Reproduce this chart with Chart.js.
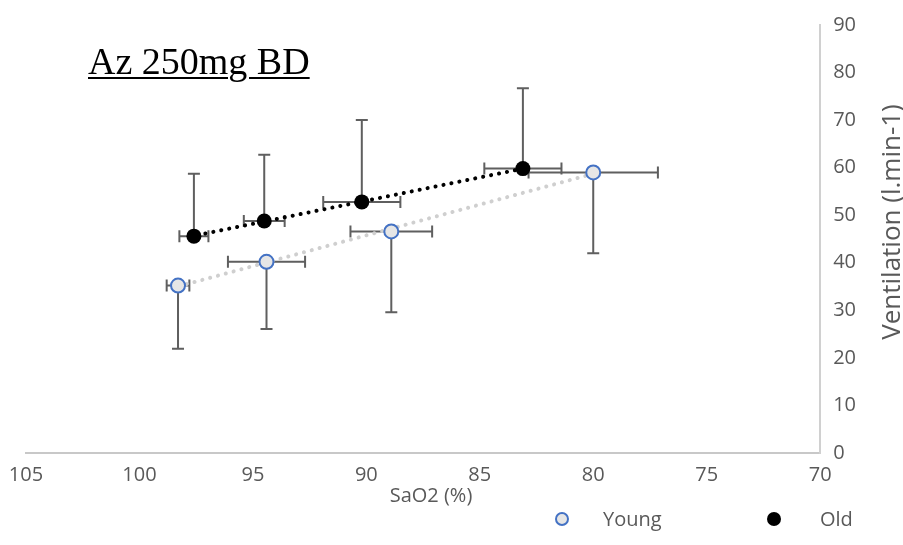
<!DOCTYPE html>
<html>
<head>
<meta charset="utf-8">
<script src="https://cdn.jsdelivr.net/npm/chart.js@4.4.0/dist/chart.umd.min.js"></script>
<style>
  body { margin: 0; background: #fff; }
  #wrap { position: relative; width: 903px; height: 545px; }
  #title { position: absolute; left: 88px; top: 42px; line-height: 38px; font-family: "Liberation Serif", serif; font-size: 38px; text-decoration: underline; text-decoration-thickness: 2px; text-underline-offset: 3px; color: #000; white-space: nowrap; }
  #ytitle { position: absolute; left: 740px; top: 208px; width: 300px; line-height: 28px; text-align: center; font-family: "Open Sans", sans-serif; font-size: 26px; color: #595959; transform: rotate(-90deg); white-space: nowrap; }
  #xtitle { position: absolute; left: 331px; top: 482px; width: 200px; line-height: 26px; text-align: center; font-family: "Open Sans", sans-serif; font-size: 20px; color: #595959; white-space: nowrap; }
  .leg { position: absolute; top: 505px; line-height: 28px; font-family: "Open Sans", sans-serif; font-size: 20px; color: #595959; white-space: nowrap; }
  .dot { position: absolute; border-radius: 50%; box-sizing: border-box; }
</style>
</head>
<body>
<div id="wrap">
  <canvas id="chart" width="903" height="545"></canvas>
  <div id="title">Az 250mg BD</div>
  <div id="ytitle">Ventilation (l.min-1)</div>
  <div id="xtitle">SaO2 (%)</div>
  <div class="dot" style="left:555px; top:512px; width:14px; height:14px; background:#e6e6e6; border:2px solid #4472c4;"></div>
  <div class="leg" style="left:603px;">Young</div>
  <div class="dot" style="left:767px; top:512px; width:14px; height:14px; background:#000;"></div>
  <div class="leg" style="left:820px;">Old</div>
</div>
<script>
// SaO2 (%) vs ventilation
const youngX = [98.3, 94.4, 88.9, 80.0];
const youngY = [35.2, 40.2, 46.6, 59.0];
const youngXErr = [0.5, 1.7, 1.8, 2.85];
const youngYErr = [13.3, 14.1, 17.0, 17.0]; // drawn downwards only

const oldX = [97.6, 94.5, 90.2, 83.1];
const oldY = [45.6, 48.8, 52.8, 59.8];
const oldXErr = [0.64, 0.9, 1.7, 1.7];
const oldYErr = [13.1, 13.9, 17.2, 16.9]; // drawn upwards only

const xTickValues = [70, 75, 80, 85, 90, 95, 100, 105];
const yTickValues = [0, 10, 20, 30, 40, 50, 60, 70, 80, 90];

function toPoints(xs, ys) {
  return xs.map((x, i) => ({ x: x, y: ys[i] }));
}

// linear trendline over the x range of the data
function trend(xs, ys) {
  const n = xs.length;
  const mx = xs.reduce((a, b) => a + b, 0) / n;
  const my = ys.reduce((a, b) => a + b, 0) / n;
  let sxy = 0, sxx = 0;
  for (let i = 0; i < n; i++) {
    sxy += (xs[i] - mx) * (ys[i] - my);
    sxx += (xs[i] - mx) * (xs[i] - mx);
  }
  const b = sxy / sxx;
  const a = my - b * mx;
  const lo = Math.min(...xs), hi = Math.max(...xs);
  return [{ x: lo, y: a + b * lo }, { x: hi, y: a + b * hi }];
}

const errors = {
  0: { xErr: youngXErr, yErr: youngYErr, dir: -1 },
  1: { xErr: oldXErr, yErr: oldYErr, dir: 1 }
};

const errorBars = {
  id: 'errorBars',
  beforeDatasetsDraw(chart) {
    const ctx = chart.ctx;
    const xs = chart.scales.x, ys = chart.scales.y;
    const cap = 6;
    ctx.save();
    ctx.strokeStyle = '#5f5f5f';
    ctx.lineWidth = 2;
    Object.keys(errors).forEach(k => {
      const e = errors[k];
      chart.data.datasets[k].data.forEach((p, i) => {
        const px = xs.getPixelForValue(p.x);
        const py = ys.getPixelForValue(p.y);
        const x1 = xs.getPixelForValue(p.x - e.xErr[i]);
        const x2 = xs.getPixelForValue(p.x + e.xErr[i]);
        const yEnd = ys.getPixelForValue(p.y + e.dir * e.yErr[i]);
        ctx.beginPath();
        ctx.moveTo(x1, py); ctx.lineTo(x2, py);
        ctx.moveTo(x1, py - cap); ctx.lineTo(x1, py + cap);
        ctx.moveTo(x2, py - cap); ctx.lineTo(x2, py + cap);
        ctx.moveTo(px, py); ctx.lineTo(px, yEnd);
        ctx.moveTo(px - cap, yEnd); ctx.lineTo(px + cap, yEnd);
        ctx.stroke();
      });
    });
    ctx.restore();
  }
};

const tickFont = { family: 'Open Sans', size: 20 };

new Chart(document.getElementById('chart'), {
  type: 'scatter',
  data: {
    datasets: [
      {
        label: 'Young',
        data: toPoints(youngX, youngY),
        pointRadius: 7,
        pointBorderWidth: 2,
        pointBackgroundColor: '#e6e6e6',
        pointBorderColor: '#4472c4',
        order: 0
      },
      {
        label: 'Old',
        data: toPoints(oldX, oldY),
        pointRadius: 7.5,
        pointBorderWidth: 0,
        pointBackgroundColor: '#000',
        pointBorderColor: '#000',
        order: 0
      },
      {
        label: 'Young trend',
        data: trend(youngX, youngY),
        showLine: true,
        pointRadius: 0,
        borderColor: '#cfcfcf',
        borderWidth: 4,
        borderDash: [0.1, 8],
        borderCapStyle: 'round',
        order: 1
      },
      {
        label: 'Old trend',
        data: trend(oldX, oldY),
        showLine: true,
        pointRadius: 0,
        borderColor: '#000',
        borderWidth: 4,
        borderDash: [0.1, 8],
        borderCapStyle: 'round',
        order: 1
      }
    ]
  },
  options: {
    responsive: false,
    animation: false,
    layout: { padding: { left: 26, right: 34, top: 12, bottom: 48 } },
    plugins: {
      legend: { display: false },
      tooltip: { enabled: false }
    },
    scales: {
      x: {
        type: 'linear',
        min: 70,
        max: 105,
        reverse: true,
        afterBuildTicks: s => { s.ticks = xTickValues.map(v => ({ value: v })); },
        grid: { display: false, drawTicks: false },
        border: { color: '#c8c8c8', width: 2 },
        ticks: { color: '#595959', font: tickFont, padding: 10, maxRotation: 0 }
      },
      y: {
        position: 'right',
        min: 0,
        max: 90,
        afterBuildTicks: s => { s.ticks = yTickValues.map(v => ({ value: v })); },
        grid: { display: false, drawTicks: false },
        border: { color: '#d0d0d0', width: 2 },
        ticks: { color: '#595959', font: tickFont, padding: 13 }
      }
    }
  },
  plugins: [errorBars]
});
</script>
</body>
</html>
